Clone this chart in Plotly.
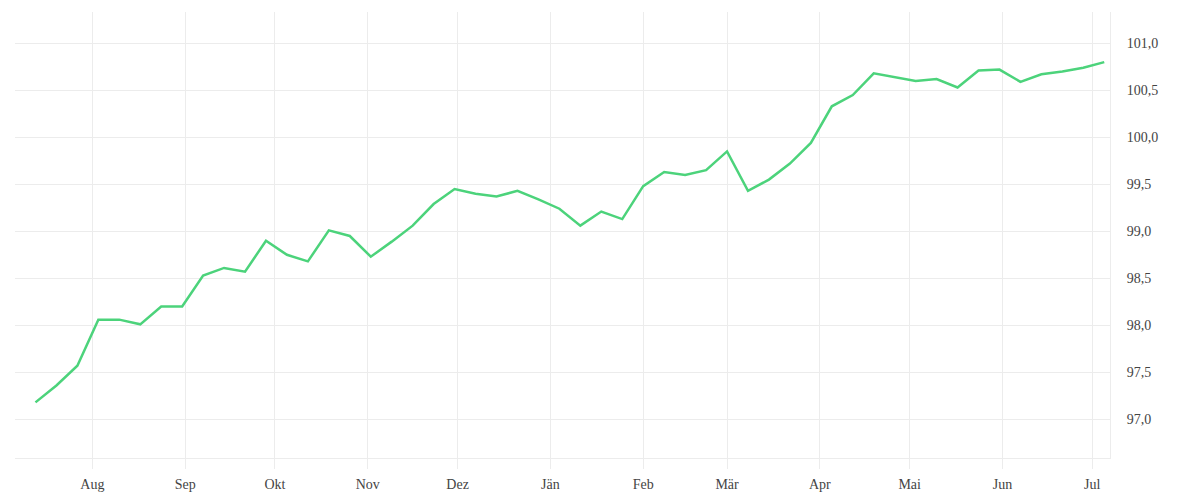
import pandas as pd
import plotly.graph_objects as go

# weekly index values
dates = pd.date_range("2022-07-13", periods=52, freq="7D")
values = [
    97.18, 97.36, 97.57, 98.06, 98.06, 98.01, 98.20, 98.20, 98.53, 98.61,
    98.57, 98.90, 98.75, 98.68, 99.01, 98.95, 98.73, 98.89, 99.06, 99.29,
    99.45, 99.40, 99.37, 99.43, 99.34, 99.24, 99.06, 99.21, 99.13, 99.48,
    99.63, 99.60, 99.65, 99.85, 99.43, 99.55, 99.72, 99.94, 100.33, 100.45,
    100.68, 100.64, 100.60, 100.62, 100.53, 100.71, 100.72, 100.59, 100.67, 100.70,
    100.74, 100.80,
]
month_ticks = pd.date_range("2022-08-01", "2023-07-01", freq="MS")
month_labels = ["Aug", "Sep", "Okt", "Nov", "Dez", "Jän", "Feb", "Mär",
                "Apr", "Mai", "Jun", "Jul"]

GRID = "#ececec"
FONT = "Liberation Serif"

fig = go.Figure()
fig.add_scatter(x=dates, y=values, mode="lines",
                line=dict(color="#4cd37b", width=2.5), showlegend=False,
                hovertemplate="%{x|%d.%m.%Y}: %{y:.2f}<extra></extra>")

# page body has an 8px margin, so the margins are trimmed to land the plot
# area where the reference has it
fig.update_layout(
    width=1200, height=500,
    margin=dict(l=7, r=98, t=4, b=50),
    plot_bgcolor="white", paper_bgcolor="white",
    separators=",.",
    font=dict(family=FONT, size=14, color="#444"),
)
fig.update_xaxes(
    range=["2022-07-06 04:00", "2023-07-06 22:00"],
    tickvals=month_ticks, ticktext=month_labels,
    showgrid=True, gridcolor=GRID, gridwidth=1,
    showline=True, linecolor=GRID, linewidth=1,
    ticks="outside", ticklen=10, tickcolor=GRID,
    ticklabelstandoff=3,
    zeroline=False,
)
fig.update_yaxes(
    side="right", range=[96.588, 101.333],
    dtick=0.5, tick0=97, tickformat=".1f",
    showgrid=True, gridcolor=GRID, gridwidth=1,
    showline=True, linecolor=GRID, linewidth=1,
    ticks="", ticklabelstandoff=13,
    zeroline=False,
)
fig.write_html("out.html")
